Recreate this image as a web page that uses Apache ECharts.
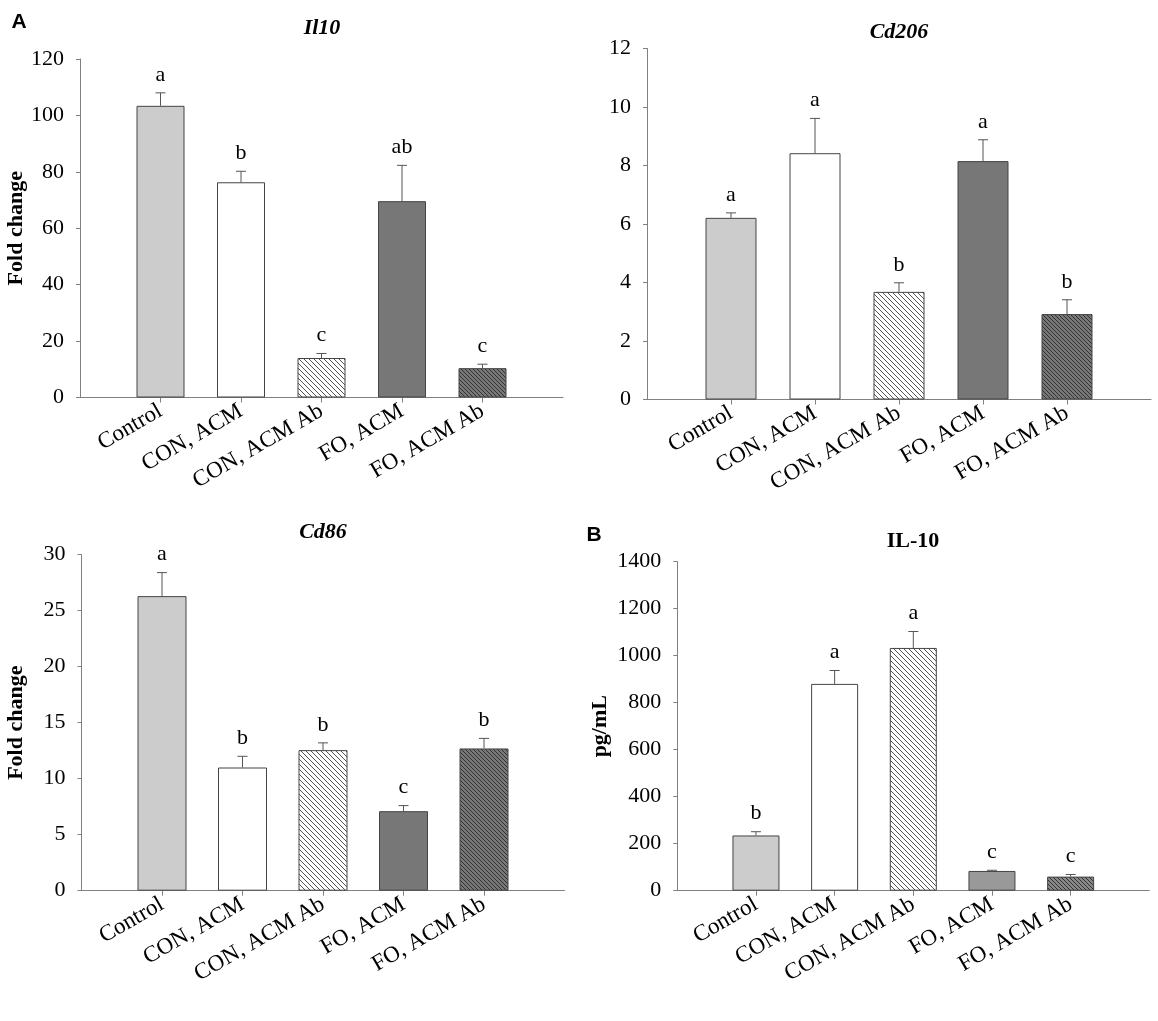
<!DOCTYPE html>
<html>
<head>
<meta charset="utf-8">
<script src="https://cdn.jsdelivr.net/npm/echarts@6/dist/echarts.min.js"></script>
<style>
  html, body { margin: 0; padding: 0; background: #fff; }
  #main { width: 1158px; height: 1021px; }
</style>
</head>
<body>
<div id="main"></div>
<script>
// groups on the x axis
var groups = ['Control', 'CON, ACM', 'CON, ACM Ab', 'FO, ACM', 'FO, ACM Ab'];

// Il10 fold change
var il10Mean = [103.4, 76.3, 14.0, 69.6, 10.4];
var il10Err = [4.6, 3.9, 1.6, 12.7, 1.4];
var il10Sig = ['a', 'b', 'c', 'ab', 'c'];

// Cd206 fold change
var cd206Mean = [6.21, 8.42, 3.68, 8.15, 2.92];
var cd206Err = [0.17, 1.19, 0.31, 0.73, 0.49];
var cd206Sig = ['a', 'a', 'b', 'a', 'b'];

// Cd86 fold change
var cd86Mean = [26.3, 11.0, 12.55, 7.1, 12.7];
var cd86Err = [2.1, 1.0, 0.65, 0.5, 0.9];
var cd86Sig = ['a', 'b', 'b', 'c', 'b'];

// IL-10 protein, pg/mL
var il10pMean = [235, 880, 1033, 84, 60];
var il10pErr = [16, 57, 70, 3, 9];
var il10pSig = ['b', 'a', 'a', 'c', 'c'];

var serif = '"Liberation Serif", "Times New Roman", serif';

// hatch pattern (lines like "\")
function hatch(bg, fg, size) {
  var c = document.createElement('canvas');
  c.width = size; c.height = size;
  var ctx = c.getContext('2d');
  ctx.fillStyle = bg;
  ctx.fillRect(0, 0, size, size);
  ctx.strokeStyle = fg;
  ctx.lineWidth = 1;
  ctx.beginPath();
  ctx.moveTo(-1, -1); ctx.lineTo(size + 1, size + 1);
  ctx.moveTo(-1, size - 1); ctx.lineTo(1, size + 1);
  ctx.moveTo(size - 1, -1); ctx.lineTo(size + 1, 1);
  ctx.stroke();
  return { image: c, repeat: 'repeat' };
}

var fillsA = ['#cccccc', '#ffffff', hatch('#ffffff', '#555555', 5), '#777777', hatch('#777777', '#333333', 4)];
var fillsB = ['#cccccc', '#ffffff', hatch('#ffffff', '#555555', 5), '#999999', hatch('#888888', '#333333', 4)];

var grids = [
  { left: 80, top: 59, width: 483, height: 338.5 },
  { left: 647, top: 48.5, width: 504, height: 351 },
  { left: 81.5, top: 554.7, width: 483, height: 336 },
  { left: 677.3, top: 561.7, width: 472, height: 329 }
];

var panels = [
  { mean: il10Mean, err: il10Err, sig: il10Sig, max: 120, step: 20, name: 'Fold change', gap: 52, bw: 48, fills: fillsA },
  { mean: cd206Mean, err: cd206Err, sig: cd206Sig, max: 12, step: 2, name: '', gap: 52, bw: 51, fills: fillsA },
  { mean: cd86Mean, err: cd86Err, sig: cd86Sig, max: 30, step: 5, name: 'Fold change', gap: 54, bw: 49, fills: fillsA },
  { mean: il10pMean, err: il10pErr, sig: il10pSig, max: 1400, step: 200, name: 'pg/mL', gap: 66, bw: 47, fills: fillsB }
];

var xAxes = [], yAxes = [], series = [];

panels.forEach(function (p, k) {
  xAxes.push({
    gridIndex: k, type: 'value', min: 0, max: 6,
    axisLine: { show: true, lineStyle: { color: '#808080', width: 1 } },
    axisTick: { show: true, length: 5, customValues: [1, 2, 3, 4, 5], lineStyle: { color: '#808080' } },
    axisLabel: {
      customValues: [1, 2, 3, 4, 5], rotate: 30, margin: 12,
      fontFamily: serif, fontSize: 23, color: '#000',
      formatter: function (v) { return groups[Math.round(v) - 1] || ''; }
    },
    splitLine: { show: false }
  });
  yAxes.push({
    gridIndex: k, type: 'value', min: 0, max: p.max, interval: p.step,
    name: p.name, nameLocation: 'middle', nameGap: p.gap,
    nameTextStyle: { fontFamily: serif, fontSize: 22, fontWeight: 'bold', color: '#000' },
    axisLine: { show: true, lineStyle: { color: '#808080', width: 1 } },
    axisTick: { show: true, length: 4, lineStyle: { color: '#808080' } },
    axisLabel: { margin: 16, fontFamily: serif, fontSize: 22, color: '#000',
                 formatter: function (v) { return String(v); } },
    splitLine: { show: false }
  });
  series.push({
    type: 'bar', xAxisIndex: k, yAxisIndex: k, barWidth: p.bw,
    data: p.mean.map(function (m, i) {
      return { value: [i + 1, m], itemStyle: { color: p.fills[i] } };
    }),
    itemStyle: { borderColor: '#444444', borderWidth: 1 },
    silent: true
  });
  series.push({
    type: 'custom', xAxisIndex: k, yAxisIndex: k, z: 5, silent: true,
    data: p.mean.map(function (m, i) { return [i + 1, m, p.err[i]]; }),
    renderItem: function (params, api) {
      var x = api.value(0), m = api.value(1), e = api.value(2);
      var p0 = api.coord([x, m]);
      var p1 = api.coord([x, m + e]);
      var st = { stroke: '#555555', lineWidth: 1 };
      return {
        type: 'group',
        children: [
          { type: 'line', shape: { x1: p0[0], y1: p0[1], x2: p1[0], y2: p1[1] }, style: st },
          { type: 'line', shape: { x1: p1[0] - 5, y1: p1[1], x2: p1[0] + 5, y2: p1[1] }, style: st },
          { type: 'text', x: p1[0], y: p1[1] - 7,
            style: { text: p.sig[params.dataIndex], textAlign: 'center', textVerticalAlign: 'bottom',
                     font: '22px ' + serif, fill: '#000' } }
        ]
      };
    }
  });
});

function label(txt, x, y, font) {
  return { type: 'text', x: x, y: y,
    style: { text: txt, font: font, fill: '#000', textAlign: 'center', textVerticalAlign: 'middle' } };
}

var chart = echarts.init(document.getElementById('main'));
chart.setOption({
  animation: false,
  grid: grids.map(function (g) { return Object.assign({ outerBoundsMode: 'none', containLabel: false }, g); }),
  xAxis: xAxes,
  yAxis: yAxes,
  series: series,
  graphic: [
    label('A', 19, 22, 'bold 21px "Liberation Sans", Arial, sans-serif'),
    label('B', 594, 535, 'bold 21px "Liberation Sans", Arial, sans-serif'),
    label('Il10', 322, 28, 'italic bold 22px ' + serif),
    label('Cd206', 899, 32, 'italic bold 22px ' + serif),
    label('Cd86', 323, 532, 'italic bold 22px ' + serif),
    label('IL-10', 913, 541, 'bold 22px ' + serif)
  ]
});
</script>
</body>
</html>
